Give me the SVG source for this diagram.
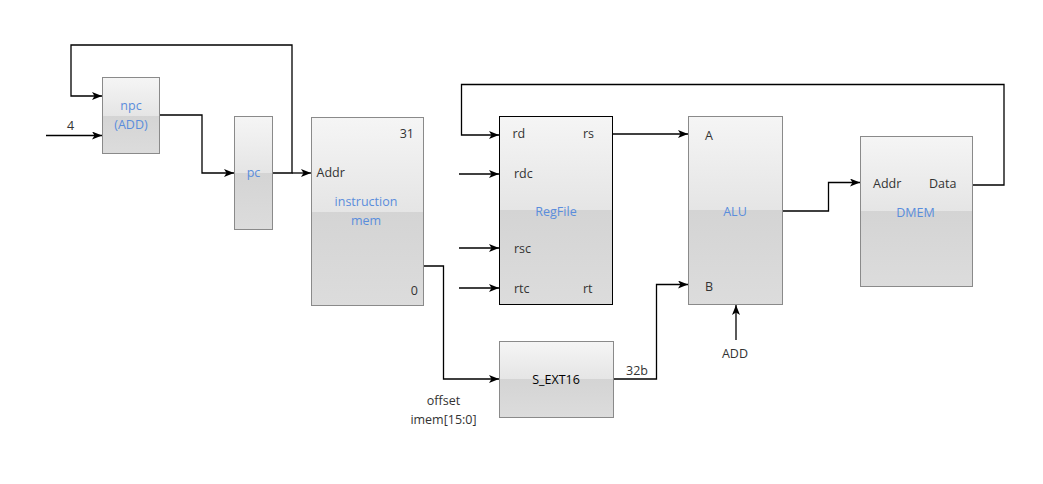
<svg xmlns="http://www.w3.org/2000/svg" width="1043" height="484" viewBox="0 0 1043 484">
<defs>
<linearGradient id="glass" x1="0" y1="0" x2="0" y2="1">
<stop offset="0" stop-color="#f5f5f5"/>
<stop offset="0.5" stop-color="#e5e5e5"/>
<stop offset="0.5" stop-color="#d4d4d4"/>
<stop offset="1" stop-color="#dcdcdc"/>
</linearGradient>
<marker id="arr" markerWidth="10" markerHeight="8" refX="10" refY="4" orient="auto" markerUnits="userSpaceOnUse">
<path d="M0,0 L10,4 L0,8 L2.5,4 Z" fill="#000"/>
</marker>
</defs>
<style>
.box{fill:url(#glass);stroke:#8a8a8a;stroke-width:1}
.boxk{fill:url(#glass);stroke:#000;stroke-width:1}
text{font-family:"Open Sans","Noto Sans","DejaVu Sans",sans-serif;font-size:12.5px}
.t{fill:#333333}
.b{fill:#5a8ddc}
.k{fill:#000}
.c{text-anchor:middle}
.r{text-anchor:end}
.wa{fill:none;stroke:#000;stroke-width:1.3;marker-end:url(#arr)}
</style>
<rect width="1043" height="484" fill="#ffffff"/>

<g id="connectors">
<polyline class="wa" points="272,173 292,173 292,45 71,45 71,96 102,96"/>
<polyline class="wa" points="46,135.5 102,135.5"/>
<polyline class="wa" points="159,115 202,115 202,173 234,173"/>
<polyline class="wa" points="292,173 311,173"/>
<polyline class="wa" points="423,266 443.5,266 443.5,379 499,379"/>
<polyline class="wa" points="613,379 656.5,379 656.5,284.5 688,284.5"/>
<polyline class="wa" points="612,134 688,134"/>
<polyline class="wa" points="972,185 1004,185 1004,84.5 461.5,84.5 461.5,135 499,135"/>
<polyline class="wa" points="459,174 499,174"/>
<polyline class="wa" points="459,248 499,248"/>
<polyline class="wa" points="459,288 499,288"/>
<polyline class="wa" points="782,211 828.5,211 828.5,182.5 860,182.5"/>
<polyline class="wa" points="736,340 736,305"/>
</g>

<g id="npc">
<rect class="box" x="102.5" y="77.5" width="57" height="76"/>
<text class="b c" x="131" y="110">npc</text>
<text class="b c" x="131" y="129">(ADD)</text>
</g>

<g id="pc">
<rect class="box" x="234.5" y="116.5" width="38" height="113"/>
<text class="b c" x="253.5" y="177">pc</text>
</g>

<g id="imem">
<rect class="box" x="311.5" y="117.5" width="112" height="188"/>
<text class="t r" x="414" y="138">31</text>
<text class="t" x="316.5" y="177">Addr</text>
<text class="b c" x="366" y="206">instruction</text>
<text class="b c" x="366" y="225">mem</text>
<text class="t r" x="418" y="295">0</text>
</g>

<g id="regfile">
<rect class="boxk" x="499.5" y="116.5" width="113" height="188"/>
<text class="t" x="512.5" y="138">rd</text>
<text class="t" x="583" y="138">rs</text>
<text class="t" x="514" y="178">rdc</text>
<text class="b c" x="556" y="216">RegFile</text>
<text class="t" x="514" y="253">rsc</text>
<text class="t" x="514" y="293">rtc</text>
<text class="t" x="583" y="293">rt</text>
</g>

<g id="alu">
<rect class="box" x="688.5" y="116.5" width="94" height="188"/>
<text class="t" x="705" y="140">A</text>
<text class="b c" x="735" y="216">ALU</text>
<text class="t" x="705" y="291">B</text>
</g>

<g id="dmem">
<rect class="box" x="860.5" y="136.5" width="112" height="150"/>
<text class="t" x="873" y="188">Addr</text>
<text class="t" x="929" y="188">Data</text>
<text class="b c" x="915.5" y="217">DMEM</text>
</g>

<g id="sext16">
<rect class="box" x="499.5" y="341.5" width="114" height="76"/>
<text class="k c" x="556" y="384">S_EXT16</text>
</g>

<g id="labels">
<text class="t c" x="70.5" y="130">4</text>
<text class="t" x="626" y="375">32b</text>
<text class="t c" x="443.5" y="405">offset</text>
<text class="t c" x="443.5" y="424">imem[15:0]</text>
<text class="t c" x="735" y="358">ADD</text>
</g>
</svg>
